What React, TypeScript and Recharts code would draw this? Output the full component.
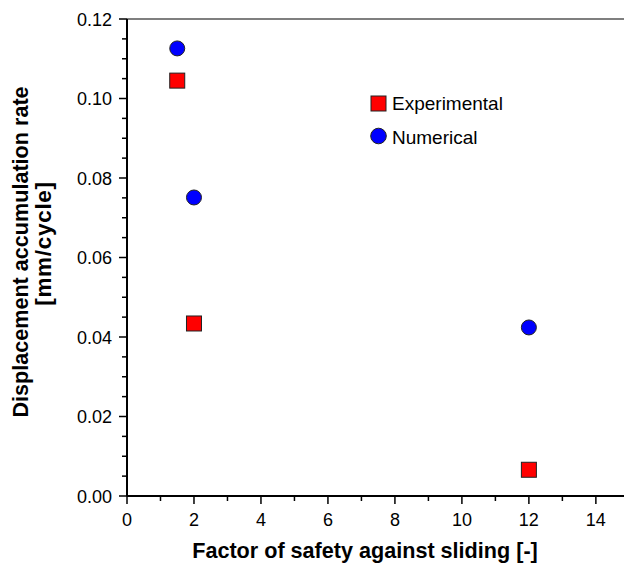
import React from "react";
import {
  ScatterChart,
  Scatter,
  XAxis,
  YAxis,
  ReferenceLine,
} from "recharts";

const experimentalX = [1.5, 2, 12];
const experimentalY = [0.1045, 0.0434, 0.0066];
const numericalX = [1.5, 2, 12];
const numericalY = [0.1126, 0.0751, 0.0424];

const xTicks = [0, 1, 2, 3, 4, 5, 6, 7, 8, 9, 10, 11, 12, 13, 14];
const xLabelTicks = [0, 2, 4, 6, 8, 10, 12, 14];
const yTicks = [
  0, 0.005, 0.01, 0.015, 0.02, 0.025, 0.03, 0.035, 0.04, 0.045, 0.05, 0.055,
  0.06, 0.065, 0.07, 0.075, 0.08, 0.085, 0.09, 0.095, 0.1, 0.105, 0.11, 0.115,
  0.12,
];
const yLabelTicks = ["0.00", "0.02", "0.04", "0.06", "0.08", "0.10", "0.12"];

const experimental = experimentalX.map((x, i) => ({ x, y: experimentalY[i] }));
const numerical = numericalX.map((x, i) => ({ x, y: numericalY[i] }));

const FONT = "'Liberation Sans', Arial, sans-serif";
const AXIS = "#000";

const XTick = (props: any) => {
  const { x, y, payload } = props;
  const v = payload.value;
  const major = xLabelTicks.includes(v);
  return (
    <g>
      <line x1={x} x2={x} y1={y} y2={y + (major ? 8 : 5)} stroke={AXIS} strokeWidth={1.5} />
      {major && (
        <text x={x} y={y + 30} textAnchor="middle" fontSize={18} fontFamily={FONT} fill="#000">
          {v}
        </text>
      )}
    </g>
  );
};

const YTick = (props: any) => {
  const { x, y, payload } = props;
  const v = payload.value as number;
  const label = v.toFixed(2);
  const major = yLabelTicks.includes(label) && Math.abs(v * 50 - Math.round(v * 50)) < 1e-6;
  return (
    <g>
      <line x1={x - (major ? 8 : 5)} x2={x} y1={y} y2={y} stroke={AXIS} strokeWidth={1.5} />
      {major && (
        <text x={x - 15} y={y + 6.5} textAnchor="end" fontSize={18} fontFamily={FONT} fill="#000">
          {label}
        </text>
      )}
    </g>
  );
};

const SquareShape = (props: any) => {
  const { cx, cy } = props;
  return <rect x={cx - 7.5} y={cy - 7.5} width={15} height={15} fill="#ff0000" stroke="#222" strokeWidth={1} />;
};

const CircleShape = (props: any) => {
  const { cx, cy } = props;
  return <circle cx={cx} cy={cy} r={7.5} fill="#0000ff" stroke="#222" strokeWidth={1} />;
};

const LegendBox = () => (
  <g>
    <rect x={371} y={96} width={15} height={15} fill="#ff0000" stroke="#222" strokeWidth={1} />
    <text x={392} y={110} fontSize={19} fontFamily={FONT} fill="#000">
      Experimental
    </text>
    <circle cx={378.5} cy={136} r={7.8} fill="#0000ff" stroke="#222" strokeWidth={1} />
    <text x={392} y={144} fontSize={19} fontFamily={FONT} fill="#000">
      Numerical
    </text>
  </g>
);

const YLabel = () => (
  <g>
    <text
      transform="translate(28, 252) rotate(-90)"
      textAnchor="middle"
      fontSize={21.6}
      fontWeight="bold"
      fontFamily={FONT}
      fill="#000"
    >
      Displacement accumulation rate
    </text>
    <text
      transform="translate(51, 243.5) rotate(-90)"
      textAnchor="middle"
      fontSize={22.5}
      letterSpacing={0.7}
      fontWeight="bold"
      fontFamily={FONT}
      fill="#000"
    >
      [mm/cycle]
    </text>
  </g>
);

export default function App() {
  return (
    <div style={{ position: "absolute", left: 0, top: 0, width: 624, height: 566, background: "#fff" }}>
      <ScatterChart
        width={624}
        height={566}
        margin={{ top: 19, right: 0, bottom: 40, left: 67 }}
        style={{ fontFamily: FONT }}
      >
        <XAxis
          type="number"
          dataKey="x"
          domain={[0, 14.84]}
          ticks={xTicks}
          interval={0}
          tickSize={0}
          tickMargin={0}
          tickLine={false}
          tick={<XTick />}
          axisLine={{ stroke: AXIS, strokeWidth: 2 }}
          height={30}
          allowDataOverflow
        />
        <YAxis
          type="number"
          dataKey="y"
          domain={[0, 0.12]}
          ticks={yTicks}
          interval={0}
          tickSize={0}
          tickMargin={0}
          tickLine={false}
          tick={<YTick />}
          axisLine={{ stroke: AXIS, strokeWidth: 2 }}
          width={60}
          allowDataOverflow
        />
        <ReferenceLine y={0.12} stroke={AXIS} strokeWidth={1.2} />
        <Scatter
          name="Experimental"
          data={experimental}
          shape={<SquareShape />}
          isAnimationActive={false}
        />
        <Scatter
          name="Numerical"
          data={numerical}
          shape={<CircleShape />}
          isAnimationActive={false}
        />
        <LegendBox />
        <YLabel />
        <text x={365} y={558} textAnchor="middle" fontSize={21.6} fontWeight="bold" fontFamily={FONT} fill="#000">
          Factor of safety against sliding [-]
        </text>
      </ScatterChart>
    </div>
  );
}
